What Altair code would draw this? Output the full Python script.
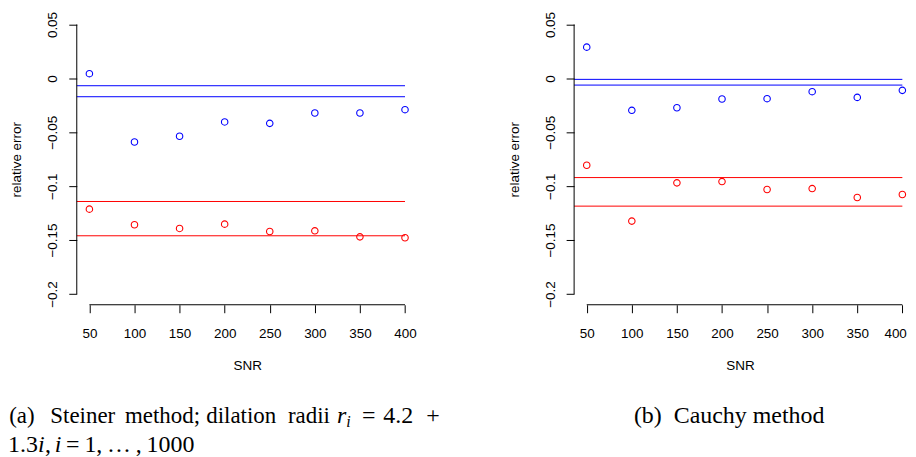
import altair as alt
import pandas as pd

# ---------------- data ----------------
snr = [50, 100, 150, 200, 250, 300, 350, 400]

steiner_blue = [0.0044, -0.0590, -0.0537, -0.0404, -0.0417, -0.0321, -0.0321, -0.0290]
steiner_red = [-0.1213, -0.1358, -0.1392, -0.1352, -0.1420, -0.1414, -0.1470, -0.1478]
steiner_blue_lines = [-0.0068, -0.0170]
steiner_red_lines = [-0.1142, -0.1460]

cauchy_blue = [0.0290, -0.0296, -0.0272, -0.0191, -0.0188, -0.0123, -0.0176, -0.0111]
cauchy_red = [-0.0806, -0.1324, -0.0969, -0.0957, -0.1031, -0.1022, -0.1105, -0.1077]
cauchy_blue_lines = [-0.0009, -0.0062]
cauchy_red_lines = [-0.0920, -0.1185]

y_ticks = [0.05, 0, -0.05, -0.1, -0.15, -0.2]
x_title = "SNR"
y_title = "relative error"

# caption pieces: (text, italic)
caption_a_line1 = [("(a)", False), ("Steiner", False), ("method;", False), ("dilation", False),
                   ("radii", False), ("r", True), ("i", True), ("=", False), ("4.2", False),
                   ("+", False)]
caption_a_line2 = [("1.3", False), ("i", True), (",", False), ("i", True), ("=", False),
                   ("1,\u2009\u2026\u2009,\u20091000", False)]
caption_b = "(b)\u00a0 Cauchy method"

XMIN, XMAX = 36, 414
YMIN, YMAX = -0.21, 0.06

W, H = 342, 292
PX_PER_UNIT = W / (XMAX - XMIN)
W_RIGHT = 333                      # right panel trimmed so the page does not overflow
XMAX_RIGHT = XMIN + W_RIGHT / PX_PER_UNIT

SANS = "Liberation Sans, Arial, Helvetica, sans-serif"
SERIF = "Liberation Serif, Times New Roman, Times, serif"
FS = 13.5

color = alt.Color("series:N",
                  scale=alt.Scale(domain=["blue", "red"], range=["#0000ff", "#ff0000"]),
                  legend=None)
ys = alt.Scale(domain=[YMIN, YMAX], nice=False, zero=False)


def make_xaxis():
    return alt.Axis(values=snr, title=x_title, domain=False, grid=False, tickSize=8,
                    labelPadding=14, titlePadding=18.5, labelFontSize=FS, titleFontSize=FS,
                    labelFont=SANS, titleFont=SANS, titleFontWeight="normal",
                    labelColor="black", titleColor="black", tickColor="black",
                    labelAngle=0, labelFlush=5, labelFlushOffset=4, labelOverlap=False)


yaxis = alt.Axis(values=y_ticks, title=y_title, domain=False, grid=False, tickSize=8,
                 labelAngle=270, labelAlign="center", labelBaseline="bottom",
                 labelPadding=9, titlePadding=22, format="~g",
                 labelFontSize=FS, titleFontSize=FS, labelFont=SANS, titleFont=SANS,
                 titleFontWeight="normal", labelColor="black", titleColor="black",
                 tickColor="black", labelFlush=False, labelOverlap=False)


def text_layer(txt, x, y, size=24, italic=False, align="left"):
    return alt.Chart(alt.Data(values=[{"t": txt}])).mark_text(
        font=SERIF, fontSize=size, fontStyle="italic" if italic else "normal",
        align=align, baseline="alphabetic", color="black"
    ).encode(text="t:N", x=alt.value(x), y=alt.value(y))


def panel(blue, red, blue_lines, red_lines, captions, width, xmax):
    xs = alt.Scale(domain=[XMIN, xmax], nice=False, zero=False)
    xaxis = make_xaxis()
    pts = pd.DataFrame({"snr": snr * 2, "err": blue + red,
                        "series": ["blue"] * len(snr) + ["red"] * len(snr)})
    lines = pd.DataFrame({"x0": [XMIN] * 4, "x1": [snr[-1]] * 4,
                          "err": blue_lines + red_lines,
                          "series": ["blue"] * 2 + ["red"] * 2})
    points = alt.Chart(pts).mark_point(shape="circle", filled=False, size=42,
                                       strokeWidth=1.1, opacity=1).encode(
        x=alt.X("snr:Q", scale=xs, axis=xaxis),
        y=alt.Y("err:Q", scale=ys, axis=yaxis),
        color=color,
    )
    hl = alt.Chart(lines).mark_rule(strokeWidth=1).encode(
        x=alt.X("x0:Q", scale=xs, axis=xaxis),
        x2="x1:Q",
        y=alt.Y("err:Q", scale=ys, axis=yaxis),
        color=color,
    )
    xline = alt.Chart(alt.Data(values=[{"a": snr[0], "b": snr[-1], "y": YMIN}])).mark_rule(
        color="black", strokeWidth=1).encode(
        x=alt.X("a:Q", scale=xs, axis=xaxis), x2="b:Q",
        y=alt.Y("y:Q", scale=ys, axis=yaxis))
    yline = alt.Chart(alt.Data(values=[{"x": XMIN, "a": y_ticks[-1], "b": y_ticks[0]}])).mark_rule(
        color="black", strokeWidth=1).encode(
        x=alt.X("x:Q", scale=xs, axis=xaxis),
        y=alt.Y("a:Q", scale=ys, axis=yaxis), y2="b:Q")
    layers = [hl, points, xline, yline] + captions
    return alt.layer(*layers).properties(width=width, height=H)


# layout of caption pieces (x relative to plot origin, align, y, size)
line1_layout = [(-55, "center", 411, 23), (6, "center", 411, 23), (86, "center", 411, 23),
                (165, "center", 411, 23), (254, "right", 411, 23), (261, "left", 411, 24),
                (270.5, "left", 415, 16), (293, "center", 411, 24), (322.5, "center", 411, 24),
                (357.5, "center", 411, 24)]
line2_layout = [(-54, "center", 440, 24), (-39, "left", 440, 24), (-32, "left", 440, 24),
                (-22, "left", 440, 24), (-4, "center", 440, 24), (118, "right", 440, 24)]

cap_a = []
for (txt, it), (x, al, y, sz) in zip(caption_a_line1 + caption_a_line2, line1_layout + line2_layout):
    cap_a.append(text_layer(txt, x, y, size=sz, italic=it, align=al))
cap_b = [text_layer(caption_b, 60, 411)]

left = panel(steiner_blue, steiner_red, steiner_blue_lines, steiner_red_lines, cap_a, W, XMAX)
right = panel(cauchy_blue, cauchy_red, cauchy_blue_lines, cauchy_red_lines, cap_b,
              W_RIGHT, XMAX_RIGHT)

chart = alt.hconcat(left, right, spacing=157, bounds="flush").properties(
    padding={"left": 0, "top": 2, "right": 0, "bottom": 0}
).configure_view(stroke=None)

chart.save("out.html", embed_options={"renderer": "svg", "actions": False})
